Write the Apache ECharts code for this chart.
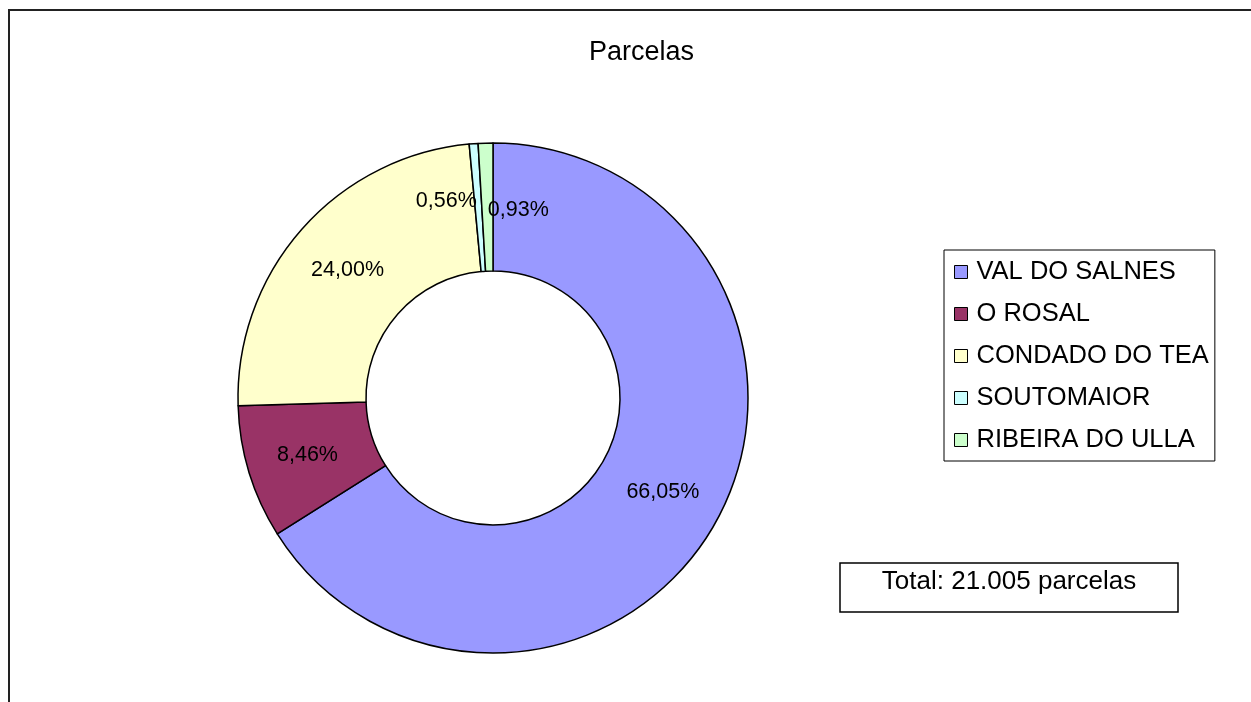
<!DOCTYPE html>
<html><head><meta charset="utf-8">
<script src="https://cdn.jsdelivr.net/npm/echarts@6/dist/echarts.min.js"></script>
<style>html,body{margin:0;padding:0;background:#fff}#c{width:1251px;height:702px}</style>
</head><body><div id="c"></div>
<script>
const categories = ['VAL DO SALNES', 'O ROSAL', 'CONDADO DO TEA', 'SOUTOMAIOR', 'RIBEIRA DO ULLA'];
const shares = [66.05, 8.46, 24.00, 0.56, 0.93];
const colors = ['#9999FF', '#993366', '#FFFFCC', '#CCFFFF', '#CCFFCC'];
const titleText = 'Parcelas';
const totalText = 'Total: 21.005 parcelas';

const font = 'Arial, "Liberation Sans", sans-serif';
const labelShift = {3: [-32, -3], 4: [31, 6]};

const chart = echarts.init(document.getElementById('c'));
chart.setOption({
  animation: false,
  backgroundColor: '#fff',
  title: {text: titleText, left: 584, top: 34,
    textStyle: {fontFamily: font, fontSize: 27, fontWeight: 'normal', color: '#000'}},
  legend: {
    orient: 'vertical', left: 944, top: 250,
    data: categories,
    icon: 'rect', itemWidth: 13, itemHeight: 13, itemGap: 16,
    padding: [9, 6, 8, 10],
    borderColor: '#000', borderWidth: 1,
    itemStyle: {borderColor: '#000', borderWidth: 1},
    textStyle: {fontFamily: font, fontSize: 25.5, color: '#000', lineHeight: 26, padding: [0, 0, 0, 4]},
    selectedMode: false
  },
  series: [{
    type: 'pie',
    center: [493, 398],
    radius: [127, 255],
    startAngle: 90,
    clockwise: true,
    avoidLabelOverlap: false,
    data: categories.map((n, i) => ({name: n, value: shares[i], itemStyle: {color: colors[i]}})),
    itemStyle: {borderColor: '#000', borderWidth: 1.5},
    label: {show: true, position: 'inside', fontFamily: font, fontSize: 21.5, color: '#000',
      formatter: p => p.value.toFixed(2).replace('.', ',') + '%'},
    labelLayout: p => {
      const s = labelShift[p.dataIndex];
      return s ? {dx: s[0], dy: s[1]} : {};
    },
    labelLine: {show: false},
    emphasis: {disabled: true}
  }],
  graphic: [
    {type: 'rect', shape: {x: 9, y: 10, width: 1400, height: 900}, style: {fill: 'none', stroke: '#222', lineWidth: 2}, silent: true},
    {type: 'rect', shape: {x: 840, y: 563, width: 338, height: 49}, style: {fill: '#fff', stroke: '#000', lineWidth: 1.5}},
    {type: 'text', x: 1009, y: 582, style: {text: totalText, font: '26px ' + font, fill: '#000', textAlign: 'center', textVerticalAlign: 'middle'}}
  ]
});
</script></body></html>
